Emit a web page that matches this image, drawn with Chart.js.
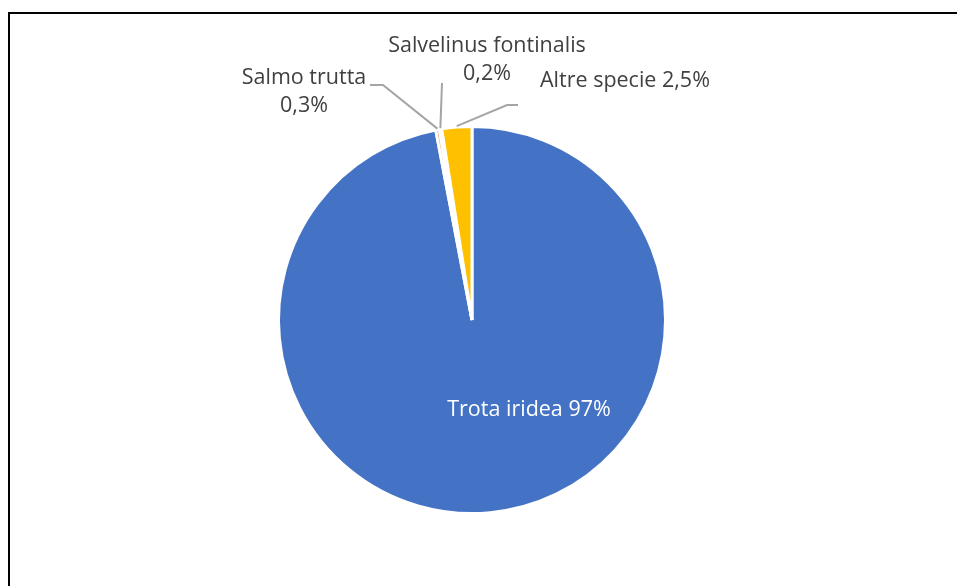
<!DOCTYPE html>
<html>
<head>
<meta charset="utf-8">
<script src="https://cdn.jsdelivr.net/npm/chart.js@4"></script>
<style>
  html, body { margin: 0; padding: 0; background: #fff; }
  #wrap { width: 957px; height: 586px; }
</style>
</head>
<body>
<div id="wrap"><canvas id="pieChart" width="957" height="586"></canvas></div>
<script>
// dati
const species = ["Trota iridea", "Salmo trutta", "Salvelinus fontinalis", "Altre specie"];
const shares = [97, 0.3, 0.2, 2.5];
const shareLabels = ["97%", "0,3%", "0,2%", "2,5%"];
const colors = ["#4472C4", "#ED7D31", "#A5A5A5", "#FFC000"];

const FONT = '21.5px "Open Sans", "Noto Sans", sans-serif';

// cornice nera come nel foglio originale
const framePlugin = {
  id: "frame",
  beforeDraw(chart) {
    const c = chart.ctx;
    c.save();
    c.strokeStyle = "#000";
    c.lineWidth = 2;
    c.beginPath();
    c.moveTo(9, 600);
    c.lineTo(9, 13);
    c.lineTo(970, 13);
    c.stroke();
    c.restore();
  },
};

// etichette con linee guida (stile Excel)
const labelPlugin = {
  id: "pieLabels",
  afterDatasetsDraw(chart) {
    const c = chart.ctx;
    const arcs = chart.getDatasetMeta(0).data;
    // posizione del testo e gomito della linea per ogni fetta
    const layout = [
      { inside: true, x: 529, y: 410 },
      { lines: [species[1], shareLabels[1]], x: 304, y: 78, elbow: [383, 85], end: [370, 85] },
      { lines: [species[2], shareLabels[2]], x: 487, y: 46, elbow: [442, 83], end: [442, 83] },
      { lines: [species[3] + " " + shareLabels[3]], x: 540, y: 81, align: "left", elbow: [507, 105], end: [518, 105] },
    ];
    c.save();
    c.font = FONT;
    c.textBaseline = "middle";
    arcs.forEach((arc, i) => {
      const L = layout[i];
      if (L.inside) {
        c.fillStyle = "#fff";
        c.textAlign = "center";
        c.fillText(species[i] + " " + shareLabels[i], L.x, L.y);
        return;
      }
      const mid = (arc.startAngle + arc.endAngle) / 2;
      const r = arc.outerRadius + 1;
      const sx = arc.x + Math.cos(mid) * r;
      const sy = arc.y + Math.sin(mid) * r;
      c.strokeStyle = "#A5A5A5";
      c.lineWidth = 2;
      c.beginPath();
      c.moveTo(sx, sy);
      c.lineTo(L.elbow[0], L.elbow[1]);
      c.lineTo(L.end[0], L.end[1]);
      c.stroke();
      c.fillStyle = "#404040";
      c.textAlign = L.align || "center";
      L.lines.forEach((t, k) => c.fillText(t, L.x, L.y + k * 28));
    });
    c.restore();
  },
};

new Chart(document.getElementById("pieChart"), {
  type: "pie",
  data: {
    labels: species,
    datasets: [{
      data: shares,
      backgroundColor: colors,
      borderColor: "#fff",
      borderWidth: 3,
    }],
  },
  options: {
    responsive: false,
    animation: false,
    layout: { padding: { top: 125, bottom: 71, left: 0, right: 13 } },
    plugins: {
      legend: { display: false },
      tooltip: { enabled: false },
      title: { display: false },
    },
  },
  plugins: [framePlugin, labelPlugin],
});
</script>
</body>
</html>
